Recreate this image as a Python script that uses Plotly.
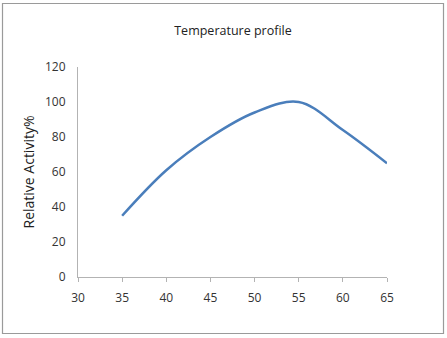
import plotly.graph_objects as go

temperature = [35, 40, 45, 50, 55, 60, 65]
relative_activity = [35, 61, 80, 94, 100, 84, 65]

x_ticks = [30, 35, 40, 45, 50, 55, 60, 65]
y_ticks = [0, 20, 40, 60, 80, 100, 120]

W, H = 447, 338
L, R, T, B = 78, 60, 67, 61
pw, ph = W - L - R, H - T - B


def px_to_paper_x(px):
    return (px - L) / pw


def px_to_paper_y(py):
    return (H - B - py) / ph


fig = go.Figure()
fig.add_trace(go.Scatter(
    x=temperature, y=relative_activity, mode="lines",
    line=dict(color="#4a7ebb", width=2.5, shape="spline", smoothing=1.0),
    showlegend=False, hoverinfo="skip",
))

font_family = "Open Sans, Liberation Sans, sans-serif"
axis_grey = "#b3b3b3"

fig.update_layout(
    width=W, height=H,
    margin=dict(l=L, r=R, t=T, b=B),
    paper_bgcolor="white", plot_bgcolor="white",
    title=dict(text="Temperature profile", x=(233 / W), xanchor="center",
               y=1 - 31 / H, yanchor="middle",
               font=dict(family=font_family, size=12.5, color="#222222")),
    xaxis=dict(range=[30, 65], tickvals=x_ticks, ticktext=[str(v) for v in x_ticks],
               showgrid=False, zeroline=False, showline=True, linecolor=axis_grey,
               linewidth=1.2, ticks="outside", ticklen=4, tickcolor=axis_grey,
               ticklabelstandoff=5,
               tickfont=dict(family=font_family, size=12, color="#333333")),
    yaxis=dict(range=[0, 120], tickvals=y_ticks, ticktext=[str(v) for v in y_ticks],
               showgrid=False, zeroline=False, showline=True, linecolor=axis_grey,
               linewidth=1.2, ticks="", ticklabelstandoff=9,
               tickfont=dict(family=font_family, size=12, color="#333333"),
               title=dict(text="Relative Activity%", standoff=7,
                          font=dict(family=font_family, size=14, color="#222222"))),
    shapes=[dict(type="rect", xref="paper", yref="paper",
                 x0=px_to_paper_x(2.5), x1=px_to_paper_x(443.5),
                 y0=px_to_paper_y(333.5), y1=px_to_paper_y(3.5),
                 line=dict(color="#9a9a9a", width=1.2), fillcolor="rgba(0,0,0,0)",
                 layer="below")],
)

fig.write_html("out.html")
